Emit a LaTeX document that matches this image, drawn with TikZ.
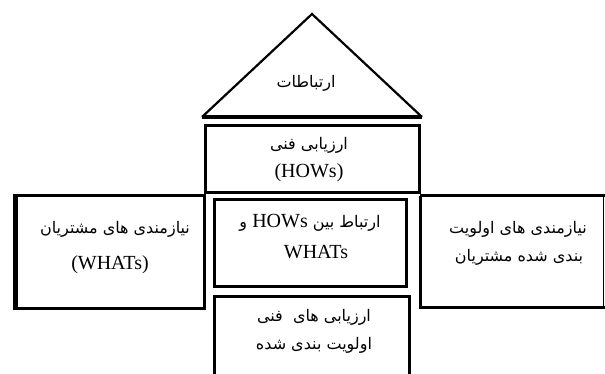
\documentclass[tikz,border=0pt]{standalone}
\usepackage{fontspec}
\setmainfont{Liberation Serif}
\newfontfamily\arabicfont[Script=Arabic]{DejaVu Sans}
\TeXXeTstate=1
\tikzset{
  box/.style={draw=black, line width=3pt, line join=miter},
  fa/.style={font=\arabicfont\fontsize{16}{18}\selectfont, inner sep=0pt, anchor=center},
  en/.style={font=\fontsize{20}{22}\selectfont, inner sep=0pt, anchor=center},
}
\begin{document}
\begin{tikzpicture}[x=1pt,y=-1pt]
\useasboundingbox (0,0) rectangle (605,374);
% roof
\coordinate (apex) at (312,14);
\coordinate (bl) at (202,117);
\coordinate (br) at (422,117);
\draw[line width=2.2pt, line join=miter] (bl) -- (apex) -- (br);
\draw[line width=3.5pt] (bl) -- (br);
% boxes
\draw[box] (205,126) rectangle (419,193);
\draw[box] (15,196) rectangle (204,308);
\draw[line width=5pt] (15,194) -- (15,310);
\draw[box] (214,200) rectangle (406,286);
\draw[box] (420,196) -- (605,196);
\draw[box] (420,196) -- (420,307) -- (605,307);
\draw[line width=1pt] (603,196) -- (603,307);
\draw[box] (214,380) -- (214,296) -- (409,296) -- (409,380);
% texts
\node[fa] (t1) at (306,83) {\beginR ارتباطات\endR};
\node[fa] (t2) at (309,145) {\beginR ارزیابی فنی\endR};
\node[en] (t3) at (309,173) {(HOWs)};
\node[fa] (t4) at (115,229) {\beginR نیازمندی های مشتریان\endR};
\node[en] (t5) at (110,265) {(WHATs)};
\node[fa] (t6) at (310,223) {\beginR ارتباط بین \beginL{\rmfamily\fontsize{20}{22}\selectfont HOWs}\endL{} و\endR};
\node[en] (t7) at (316,252) {WHATs};
\node[fa] (t8) at (518,229) {\beginR نیازمندی های اولویت\endR};
\node[fa] (t9) at (519,257) {\beginR بندی شده مشتریان\endR};
\node[fa] (t10) at (314,317) {\beginR ارزیابی های\ \ فنی\endR};
\node[fa] (t11) at (314,345) {\beginR اولویت بندی شده\endR};
\end{tikzpicture}
\end{document}
